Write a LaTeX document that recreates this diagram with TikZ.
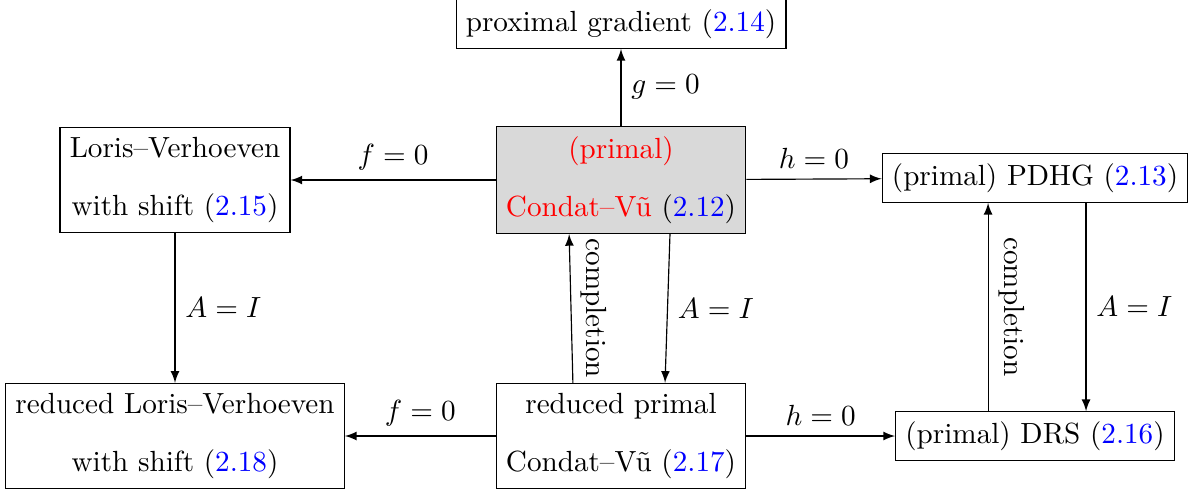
\documentclass[tikz,border=0pt]{standalone}
\usepackage{xcolor}
\usepackage{tikz}
\usetikzlibrary{arrows}
\newcommand{\eqnref}[1]{(\textcolor{blue}{#1})}

\begin{document}
\begin{tikzpicture}[x=0.343pt, y=-0.343pt,
    algbox/.style={draw, align=center},
    arr/.style={-latex}]
    \useasboundingbox (0,0) rectangle (1188,493);

    % top row
    \node[algbox] (prox) at (621,24) {proximal gradient \eqnref{2.14}};
    \node[algbox, fill=gray!30] (cv) at (621,180) {\textcolor{red}{(primal)}\\[8pt]\textcolor{red}{Condat--V\~u} \eqnref{2.12}};
    \node[algbox] (lv) at (175,180) {Loris--Verhoeven\\[8pt]with shift \eqnref{2.15}};
    \node[algbox] (pdhg) at (1035,178) {(primal) PDHG \eqnref{2.13}};

    % bottom row
    \node[algbox] (redlv) at (175,436) {reduced Loris--Verhoeven\\[8pt]with shift \eqnref{2.18}};
    \node[algbox] (redcv) at (621,436) {reduced primal\\[8pt]Condat--V\~u \eqnref{2.17}};
    \node[algbox] (drs) at (1035,436) {(primal) DRS \eqnref{2.16}};

    % special cases
    \draw[arr] (cv) -- node[right] {$g=0$} (prox);
    \draw[arr] (cv) -- node[above] {$f=0$} (lv);
    \draw[arr] (cv) -- node[above] {$h=0$} (pdhg);
    \draw[arr] (lv) -- node[right] {$A=I$} (redlv);
    \draw[arr] ([xshift=16.8pt]cv.south) -- node[right] {$A=I$} ([xshift=15.1pt]redcv.north);
    \draw[arr] (redcv) -- node[above] {$f=0$} (redlv);
    \draw[arr] (redcv) -- node[above] {$h=0$} (drs);
    \draw[arr] ([xshift=17.5pt]pdhg.south) -- node[right] {$A=I$} ([xshift=17.5pt]drs.north);

    % completions
    \draw[arr] ([xshift=-16.5pt]redcv.north) -- node[rotate=-90, anchor=south] {completion} ([xshift=-17.8pt]cv.south);
    \draw[arr] ([xshift=-16.1pt]drs.north) -- node[rotate=-90, anchor=south] {completion} ([xshift=-16.1pt]pdhg.south);
\end{tikzpicture}
\end{document}
